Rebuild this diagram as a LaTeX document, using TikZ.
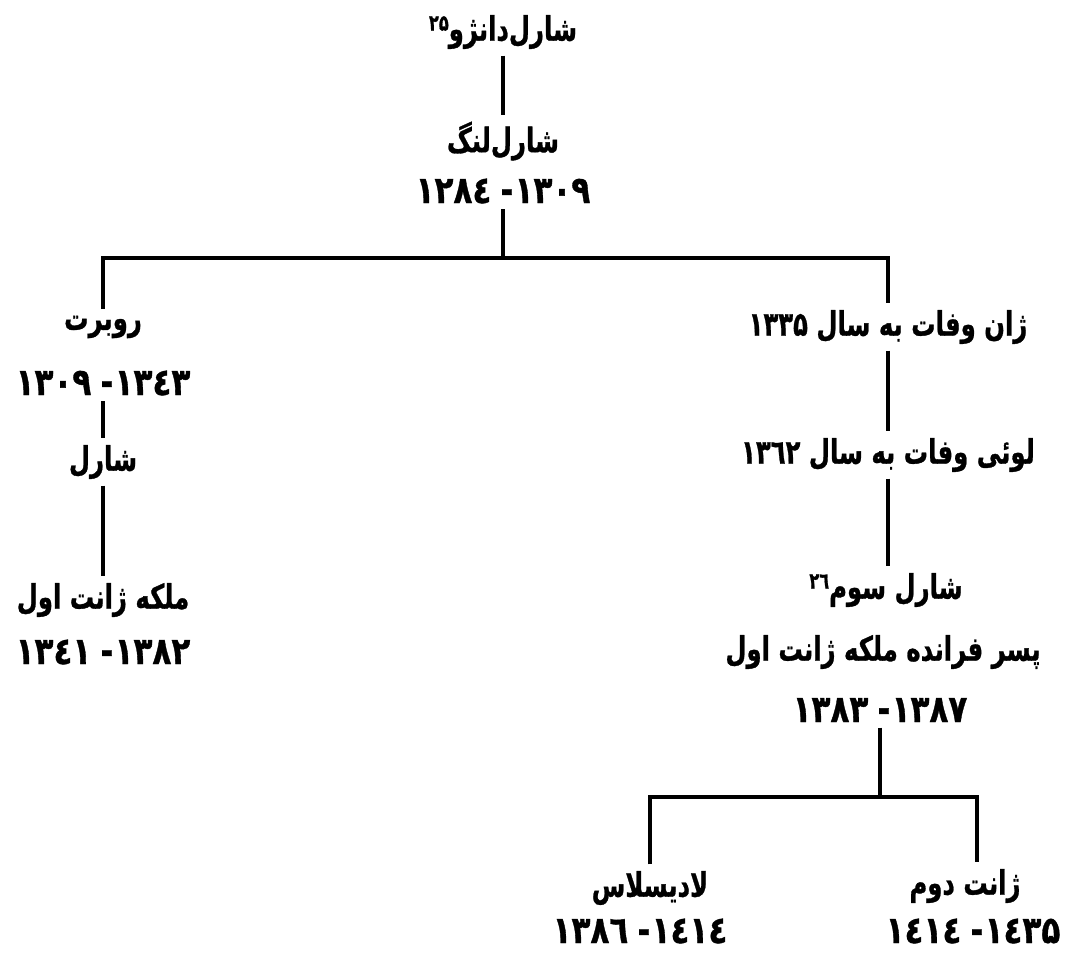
\documentclass[tikz,border=0pt]{standalone}
\usepackage{fontspec}
\newfontfamily\arabicfont[Script=Arabic,BoldFeatures={FakeBold=1}]{DejaVu Sans}
\TeXXeTstate=1
\usepackage{graphicx}
\usepackage{tikz}
\newcommand{\fa}[1]{\scalebox{0.9}[1.25]{\beginR #1\endR}}
\newcommand{\years}[2]{\scalebox{1.15}[1.4]{\beginR\hbox{#2}\kern1pt\hbox{-}\kern8pt\hbox{#1}\endR}}
\newcommand{\fnmark}[1]{\raisebox{8pt}{\fontsize{18}{18}\selectfont #1}}

\begin{document}
\begin{tikzpicture}[x=1pt,y=-1pt,line width=3.4pt,
    who/.style={font=\arabicfont\bfseries\fontsize{27}{30}\selectfont,inner sep=5pt},
    yrs/.style={font=\arabicfont\bfseries\fontsize{27}{30}\selectfont,inner sep=4pt}]
        \useasboundingbox (0,0) rectangle (1074,955);
        % top of the tree
        \node[who] (danjou) at (503,32) {\fa{شارل^^^^200cدانژو\fnmark{۲۵}}};
        \node[who] (lang) at (503,141) {\fa{شارل^^^^200cلنگ}};
        \node[yrs] (langyr) at (503,191) {\years{١٢٨٤}{١٣٠٩}};
        \coordinate (fork1) at (503,258);
        % left branch
        \node[who] (robert) at (103,327) {\fa{روبرت}};
        \node[yrs] (robertyr) at (103,383) {\years{١٣٠٩}{١٣٤٣}};
        \node[who] (charles) at (103,462) {\fa{شارل}};
        \node[who] (jeanne) at (103,600) {\fa{ملکه ژانت اول}};
        \node[yrs] (jeanneyr) at (103,652) {\years{١٣٤١}{١٣٨٢}};
        % right branch
        \node[who] (jean) at (888,327) {\fa{ژان وفات به سال \beginL ١٣٣۵\endL}};
        \node[who] (louis) at (888,455) {\fa{لوئی وفات به سال \beginL ١٣٦٢\endL}};
        \node[who] (charles3) at (886,590) {\fa{شارل سوم\fnmark{۲٦}}};
        \node[who] (son) at (883,652) {\fa{پسر فرانده ملکه ژانت اول}};
        \node[yrs] (charles3yr) at (880,710) {\years{١٣٨٣}{١٣٨٧}};
        \coordinate (fork2) at (880,797);
        \node[who] (ladislas) at (650,888) {\fa{لادیسلاس}};
        \node[yrs] (ladislasyr) at (640,931) {\years{١٣٨٦}{١٤١٤}};
        \node[who] (jeanne2) at (965,886) {\fa{ژانت دوم}};
        \node[yrs] (jeanne2yr) at (973,931) {\years{١٤١٤}{١٤٣۵}};
        % lines
        \draw (danjou) -- (lang);
        \draw (langyr) -- (fork1);
        \draw (robert) |- (fork1) -| (jean);
        \draw (robertyr) -- (charles);
        \draw (charles) -- (jeanne);
        \draw (jean) -- (louis);
        \draw (louis) -- (louis |- charles3.north);
        \draw (charles3yr) -- (fork2);
        \draw (ladislas) |- (fork2) -| ([xshift=12pt]jeanne2.north);
    \end{tikzpicture}
\end{document}
